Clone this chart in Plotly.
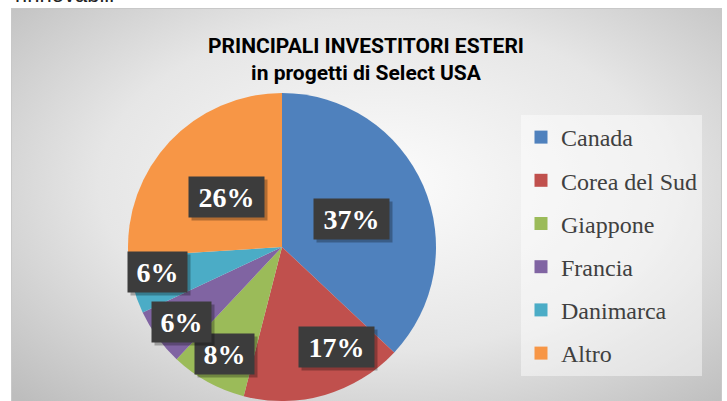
import base64, math
import plotly.graph_objects as go

categories = ["Canada", "Corea del Sud", "Giappone", "Francia", "Danimarca", "Altro"]
values = [37, 17, 8, 6, 6, 26]
colors = ["#4F81BD", "#C0504D", "#9BBB59", "#8064A2", "#4BACC6", "#F79646"]
title_text = "PRINCIPALI INVESTITORI ESTERI<br>in progetti di Select USA"

# label placement (style): radial fraction and angular nudge (deg)
label_r = [0.49, 0.73, 0.78, 0.81, 0.82, 0.49]
label_dt = [0, -13, 0, 0, 4, 0]

W, H = 727, 401
cx_px, cy_px, R = 282, 247, 154
dom_x = [(cx_px - R) / W, (cx_px + R) / W]
dom_y = [(H - cy_px - R) / H, (H - cy_px + R) / H]

svg = ("<svg xmlns='http://www.w3.org/2000/svg' width='711' height='420' preserveAspectRatio='none'>"
       "<defs><radialGradient id='g' cx='0.52' cy='0.42' r='0.72'>"
       "<stop offset='0' stop-color='#fcfcfc'/><stop offset='0.55' stop-color='#e6e6e6'/>"
       "<stop offset='1' stop-color='#bdbdbd'/></radialGradient></defs>"
       "<rect width='711' height='420' fill='url(#g)' stroke='#c8c8c8' stroke-width='2'/></svg>")
bg_src = "data:image/svg+xml;base64," + base64.b64encode(svg.encode()).decode()

fig = go.Figure()
fig.add_trace(go.Pie(
    labels=categories, values=values, sort=False, direction="clockwise", rotation=0,
    marker=dict(colors=colors, line=dict(width=0)),
    textinfo="none", hoverinfo="label+percent", showlegend=False,
    domain=dict(x=dom_x, y=dom_y),
))
# legend entries (one per category, spaced like the reference legend)
for name, col in zip(categories, colors):
    fig.add_trace(go.Scatter(x=[None], y=[None], mode="markers", name=name, legendgroup=name,
                             marker=dict(symbol="square", size=13, color=col),
                             hoverinfo="skip"))

annotations = []
total = sum(values)
cum = 0
for v, rf, dt in zip(values, label_r, label_dt):
    mid = (cum + v / 2) / total * 360 + dt
    cum += v
    th = math.radians(mid)
    px = cx_px + rf * R * math.sin(th)
    py = cy_px - rf * R * math.cos(th) + 2
    pct = f"{round(v / total * 100)}%"
    bw = 75 if len(pct) > 2 else 59
    common = dict(xref="paper", yref="paper", x=px / W, y=1 - py / H, xanchor="center", yanchor="middle",
                  showarrow=False, width=bw, height=40, borderpad=0)
    annotations.append(dict(text="", bgcolor="rgba(0,0,0,0.28)", xshift=3, yshift=-3, **common))
    annotations.append(dict(text=f"<b>{pct}</b>", bgcolor="#3c3c3c",
                            font=dict(family="Liberation Serif", size=28, color="white"), **common))

annotations.append(dict(text="rinnovabili", xref="paper", yref="paper", x=13 / W, y=1 - 9 / H,
                        xanchor="left", yanchor="bottom", showarrow=False,
                        font=dict(family="Liberation Sans", size=22, color="#222")))

fig.update_layout(
    width=W, height=H, margin=dict(l=0, r=0, t=0, b=0, autoexpand=False),
    paper_bgcolor="white", plot_bgcolor="rgba(0,0,0,0)",
    xaxis=dict(visible=False), yaxis=dict(visible=False),
    title=dict(text=f"<b>{title_text}</b>", x=366 / W, xanchor="center", y=1 - 53 / H, yanchor="top",
               font=dict(family="Roboto", size=21, color="#000")),
    showlegend=True,
    legend=dict(x=521 / W, y=1 - 115 / H, xanchor="left", yanchor="top",
                bgcolor="rgba(255,255,255,0.45)", borderwidth=0, tracegroupgap=9,
                font=dict(family="Liberation Serif", size=24, color="#404040"),
                itemclick=False, itemdoubleclick=False),
    images=[dict(source=bg_src, xref="paper", yref="paper", x=11 / W, y=1 - 8 / H,
                 sizex=711 / W, sizey=420 / H, xanchor="left", yanchor="top",
                 sizing="stretch", layer="below")],
    annotations=annotations,
)

fig.write_html("out.html", config={"displayModeBar": False},
               post_script="document.body.style.margin='0';")
